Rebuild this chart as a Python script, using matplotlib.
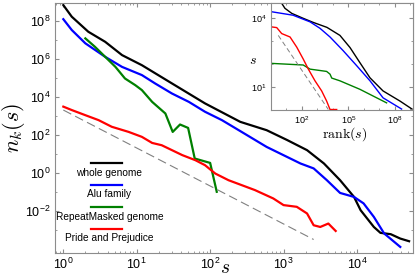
import matplotlib
matplotlib.use("Agg")
import matplotlib.pyplot as plt
import numpy as np
from matplotlib.ticker import FixedLocator, FuncFormatter, NullFormatter

plt.rcParams['font.family'] = ['Liberation Sans', 'DejaVu Sans']
plt.rcParams['mathtext.fontset'] = 'custom'
plt.rcParams['mathtext.rm'] = 'Liberation Sans'
plt.rcParams['mathtext.it'] = 'Liberation Sans:italic'

# main panel: log10(s) and log10(n_k(s))
whole_s = [0, 0.115, 0.34, 0.57, 0.8, 1.07, 1.48, 1.93, 2.41, 2.77, 3.05, 3.32,
           3.55, 3.77, 3.96, 4.05, 4.23, 4.32, 4.46, 4.59, 4.71]
whole_n = [8.84, 8.23, 7.44, 6.91, 6.21, 5.68, 4.72, 3.67, 2.7, 2.26, 1.74, 1.21,
           0.51, -0.37, -1.25, -1.95, -2.83, -3.14, -3.21, -3.44, -3.58]

alu_s = [0, 0.115, 0.3, 0.57, 0.8, 1.07, 1.25, 1.48, 1.71, 1.93, 2.16, 2.39, 2.77,
         3.23, 3.41, 3.59, 3.77, 3.96, 4.09, 4.23, 4.37, 4.59]
alu_n = [8.1, 7.53, 6.83, 6.12, 5.59, 5.16, 4.72, 4.19, 3.75, 3.23, 2.79, 2.26, 1.38,
         0.51, 0.25, -0.37, -1.04, -1.25, -1.59, -2.3, -3.17, -3.88]

rep_s = [0.3, 0.43, 0.57, 0.71, 0.84, 0.98, 1.07, 1.21, 1.39, 1.49, 1.59, 1.7,
         1.79, 2.0, 2.09]
rep_n = [7.09, 6.65, 6.12, 5.59, 4.98, 4.63, 4.37, 3.75, 3.14, 2.17, 2.56, 2.38,
         0.77, 0.54, -0.98]

pp_s = [0, 0.115, 0.3, 0.48, 0.66, 0.89, 1.07, 1.21, 1.34, 1.48, 1.62, 1.8, 1.93,
        2.07, 2.25, 2.43, 2.61, 2.86, 3.0, 3.18, 3.32, 3.41, 3.5, 3.61, 3.71]
pp_n = [3.5, 3.32, 3.05, 2.79, 2.44, 2.17, 1.91, 1.59, 1.47, 1.21, 0.95, 0.68, 0.42,
        -0.02, -0.37, -0.63, -0.89, -1.33, -1.68, -1.77, -2.12, -2.74, -2.83, -2.65, -3.04]

guide_s = [0, 3.41]
guide_n = [3.32, -3.49]

# inset: log10(rank) and log10(s)
in_whole_r = [0.045, 0.69, 0.9, 1.34, 2.06, 2.71, 3.61, 4.45, 5.1, 5.74, 6.39, 7.23, 8.32, 9.1]
in_whole_s = [4.67, 4.65, 4.43, 4.21, 4.0, 3.82, 3.6, 3.25, 2.72, 2.06, 1.4, 0.83, 0.39, 0.04]

in_alu_r = [0.045, 1.42, 2.52, 3.16, 3.81, 4.65, 5.53, 6.39, 7.23, 8.43]
in_alu_s = [4.28, 4.13, 3.84, 3.56, 3.18, 2.59, 1.93, 1.27, 0.53, 0.04]

in_pp_r = [0.045, 0.37, 0.69, 1.23, 1.66, 2.08, 2.41, 2.84, 3.27, 3.59, 3.81, 4.24]
in_pp_s = [3.62, 3.59, 3.33, 3.18, 2.74, 2.22, 1.78, 1.27, 0.83, 0.39, 0.02, 0.02]

in_rep_r = [0.045, 2.08, 2.52, 3.59, 3.81, 3.92, 4.45, 5.74, 7.46]
in_rep_s = [2.03, 1.96, 1.78, 1.68, 1.56, 1.39, 1.27, 0.9, 0.31]

in_guide_r = [0.47, 3.7]
in_guide_s = [3.25, 0.02]

labels = ["whole genome", "Alu family", "RepeatMasked genome", "Pride and Prejudice"]
colors = ["black", "blue", "green", "red"]
edge = "#8c8c8c"


def p(a):
    return 10 ** np.array(a, dtype=float)


def fmt(v, pos):
    return r'$\mathregular{10^{%d}}$' % int(round(np.log10(v)))


def style(ax, size):
    for sp in ax.spines.values():
        sp.set_color(edge)
    ax.tick_params(which='both', direction='in', top=True, right=True,
                   color=edge, labelsize=size, pad=3)
    ax.tick_params(which='major', length=3)
    ax.tick_params(which='minor', length=1.5)


fig = plt.figure(figsize=(4.15, 2.77), dpi=100)
ax = fig.add_axes([0.1325, 0.0866, 0.8627, 0.9025])

ax.plot(p(whole_s), p(whole_n), color="black", lw=1.6)
ax.plot(p(alu_s), p(alu_n), color="blue", lw=1.6)
ax.plot(p(rep_s), p(rep_n), color="green", lw=1.6)
ax.plot(p(pp_s), p(pp_n), color="red", lw=1.6)
ax.plot(p(guide_s), p(guide_n), color="gray", lw=0.8, dashes=(8, 4))

ax.set_xscale('log')
ax.set_yscale('log')
ax.set_xlim(0.77, 5.8e4)
ax.set_ylim(10 ** -4.2, 10 ** 8.95)
ax.xaxis.set_major_locator(FixedLocator([1, 10, 100, 1e3, 1e4]))
ax.yaxis.set_major_locator(FixedLocator([1e-2, 1, 1e2, 1e4, 1e6, 1e8]))
ax.yaxis.set_minor_locator(FixedLocator([1e-3, 1e-1, 1e1, 1e3, 1e5, 1e7]))
ax.xaxis.set_major_formatter(FuncFormatter(fmt))
ax.yaxis.set_major_formatter(FuncFormatter(fmt))
ax.yaxis.set_minor_formatter(NullFormatter())
style(ax, 9)

ax.text(-0.115, 0.5, r'$n_k(s)$', transform=ax.transAxes, rotation=90,
        ha='center', va='center', fontsize=16, math_fontfamily='cm')
ax.text(0.475, -0.062, r'$s$', transform=ax.transAxes, ha='center',
        va='center', fontsize=14, math_fontfamily='cm')

# legend: line above each label
leg_line_y = [0.36, 0.271, 0.183, 0.095]
leg_text_y = [0.32, 0.235, 0.145, 0.059]
for lab, c, ly, ty in zip(labels, colors, leg_line_y, leg_text_y):
    ax.plot([0.1006, 0.187], [ly, ly], color=c, lw=1.6, transform=ax.transAxes)
    ax.text(0.152, ty, lab, transform=ax.transAxes, ha='center', va='center',
            fontsize=7.3)

# inset
ins = fig.add_axes([0.653, 0.603, 0.342, 0.386])
ins.plot(p(in_whole_r), p(in_whole_s), color="black", lw=1.0)
ins.plot(p(in_alu_r), p(in_alu_s), color="blue", lw=1.0)
ins.plot(p(in_rep_r), p(in_rep_s), color="green", lw=1.0)
ins.plot(p(in_pp_r), p(in_pp_s), color="red", lw=1.0)
ins.plot(p(in_guide_r), p(in_guide_s), color="gray", lw=0.7, dashes=(5, 3))
ins.set_xscale('log')
ins.set_yscale('log')
ins.set_xlim(1, 10 ** 9.16)
ins.set_ylim(1, 10 ** 4.66)
ins.xaxis.set_major_locator(FixedLocator([1e2, 1e5, 1e8]))
ins.xaxis.set_minor_locator(FixedLocator([10.0 ** k for k in range(0, 10)]))
ins.yaxis.set_major_locator(FixedLocator([1e1, 1e4]))
ins.yaxis.set_minor_locator(FixedLocator([1e2, 1e3]))
ins.xaxis.set_major_formatter(FuncFormatter(fmt))
ins.yaxis.set_major_formatter(FuncFormatter(fmt))
ins.xaxis.set_minor_formatter(NullFormatter())
ins.yaxis.set_minor_formatter(NullFormatter())
style(ins, 6.5)
ins.text(-0.13, 0.47, r'$s$', transform=ins.transAxes, ha='center',
         va='center', fontsize=10, math_fontfamily='cm')
ins.text(0.52, -0.23, r'$\mathrm{rank}(s)$', transform=ins.transAxes,
         ha='center', va='center', fontsize=10, math_fontfamily='cm')

fig.savefig("out.png", dpi=100)
